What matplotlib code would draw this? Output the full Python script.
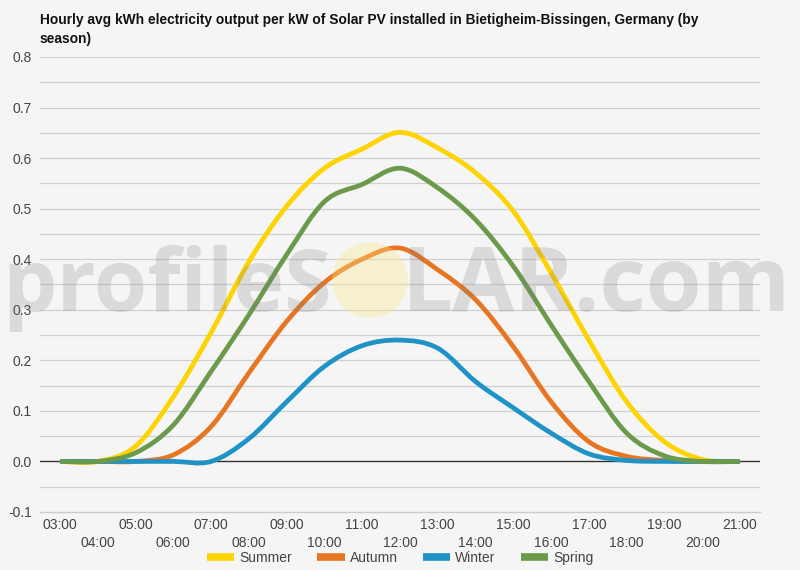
import numpy as np
import matplotlib
matplotlib.use("Agg")
import matplotlib.pyplot as plt
from matplotlib.path import Path
from matplotlib.patches import PathPatch, Ellipse
from matplotlib.lines import Line2D

# hourly values (03:00 .. 21:00)
hours = list(range(3, 22))
hour_labels = ["%02d:00" % h for h in hours]
summer = [0.0, 0.0, 0.03, 0.128, 0.255, 0.395, 0.505, 0.58, 0.618, 0.651, 0.62, 0.571, 0.495, 0.373, 0.24, 0.118, 0.039, 0.004, 0.0]
autumn = [0.0, 0.0, 0.0, 0.013, 0.069, 0.175, 0.277, 0.354, 0.40, 0.422, 0.379, 0.32, 0.227, 0.118, 0.039, 0.01, 0.002, 0.0, 0.0]
winter = [0.0, 0.0, 0.0, 0.0, 0.0, 0.045, 0.118, 0.188, 0.229, 0.24, 0.224, 0.158, 0.106, 0.056, 0.015, 0.002, 0.0, 0.0, 0.0]
spring = [0.0, 0.0, 0.017, 0.072, 0.178, 0.29, 0.409, 0.514, 0.548, 0.58, 0.541, 0.478, 0.386, 0.27, 0.158, 0.056, 0.011, 0.0, 0.0]

series = [("Summer", summer, "#fdd300"),
          ("Autumn", autumn, "#e67622"),
          ("Winter", winter, "#1f93c6"),
          ("Spring", spring, "#6b9a4b")]

bg = "#f5f5f5"
plt.rcParams['font.family'] = ['Liberation Sans', 'DejaVu Sans']


def smooth_path(x, y, k=1.0 / 6):
    # catmull-rom style bezier through the points (like a "function" curve)
    n = len(x)
    verts = [(x[0], y[0])]
    codes = [Path.MOVETO]
    for i in range(n - 1):
        p = max(i - 1, 0)
        q = min(i + 2, n - 1)
        c1 = (x[i] + (x[i + 1] - x[p]) * k, y[i] + (y[i + 1] - y[p]) * k)
        c2 = (x[i + 1] - (x[q] - x[i]) * k, y[i + 1] - (y[q] - y[i]) * k)
        verts += [c1, c2, (x[i + 1], y[i + 1])]
        codes += [Path.CURVE4] * 3
    return Path(verts, codes)


fig = plt.figure(figsize=(8, 5.7), dpi=100, facecolor=bg)
ax = fig.add_axes([0.05, 0.1018, 0.90, 0.7982])
ax.set_facecolor(bg)

pad = 20 / 37.8
ax.set_xlim(hours[0] - pad, hours[-1] + pad)
ax.set_ylim(-0.1, 0.8)

# grid every 0.05, labels every 0.1
for v in np.arange(-0.05, 0.8001, 0.05):
    if abs(v) < 1e-9:
        continue
    ax.axhline(v, color="#d0d0d0", lw=0.9, zorder=0)
ax.axhline(0.0, color="#333333", lw=1.0, zorder=1)

handles = []
for name, vals, col in series:
    patch = PathPatch(smooth_path(hours, vals), fill=False, edgecolor=col, lw=3.4,
                      capstyle="butt", joinstyle="round", zorder=3)
    ax.add_patch(patch)
    handles.append(Line2D([], [], color=col, lw=5.5, solid_capstyle="butt"))

for s in ["top", "right", "left"]:
    ax.spines[s].set_visible(False)
ax.spines["bottom"].set_color("#cccccc")
ax.spines["bottom"].set_linewidth(1.0)

ax.set_yticks(np.round(np.arange(-0.1, 0.81, 0.1), 1))
ax.set_yticklabels(["%.1f" % v for v in np.arange(-0.1, 0.81, 0.1)])
ax.tick_params(axis="y", length=0, pad=6, labelsize=10, labelcolor="#444444")

ax.set_xticks(hours[0::2])
ax.set_xticklabels(hour_labels[0::2])
ax.set_xticks(hours[1::2], minor=True)
ax.set_xticklabels(hour_labels[1::2], minor=True)
ax.tick_params(axis="x", which="major", length=0, pad=4, labelsize=10, labelcolor="#444444")
ax.tick_params(axis="x", which="minor", length=0, pad=17, labelsize=10, labelcolor="#444444")

fig.text(40 / 800, 1 - 43 / 570,
         "Hourly avg kWh electricity output per kW of Solar PV installed in Bietigheim-Bissingen, Germany (by\nseason)",
         fontsize=9.9, fontweight="bold", color="#111111", ha="left", va="baseline", linespacing=1.45)

leg = fig.legend(handles, [s[0] for s in series], loc="center", bbox_to_anchor=(0.5, 1 - 558 / 570),
                 ncol=4, frameon=False, fontsize=10, handlelength=2.0, columnspacing=1.8,
                 handletextpad=0.35)
for t in leg.get_texts():
    t.set_color("#444444")

# watermark
base = 1 - 311 / 570
fig.text(2 / 800, base, "profileS", fontsize=62, family="Open Sans", fontweight="bold",
         color="#7a7a7a", alpha=0.22, ha="left", va="baseline", zorder=10)
fig.text(402 / 800, base, "LAR.com", fontsize=65, family="Open Sans", fontweight="bold",
         color="#7a7a7a", alpha=0.22, ha="left", va="baseline", zorder=10)
sun = Ellipse((370 / 800, 1 - 280 / 570), 76 / 800, 76 / 570, transform=fig.transFigure,
              facecolor="#fbe98a", edgecolor="none", alpha=0.35, zorder=9)
fig.patches.append(sun)

fig.savefig("out.png", dpi=100, facecolor=bg)
